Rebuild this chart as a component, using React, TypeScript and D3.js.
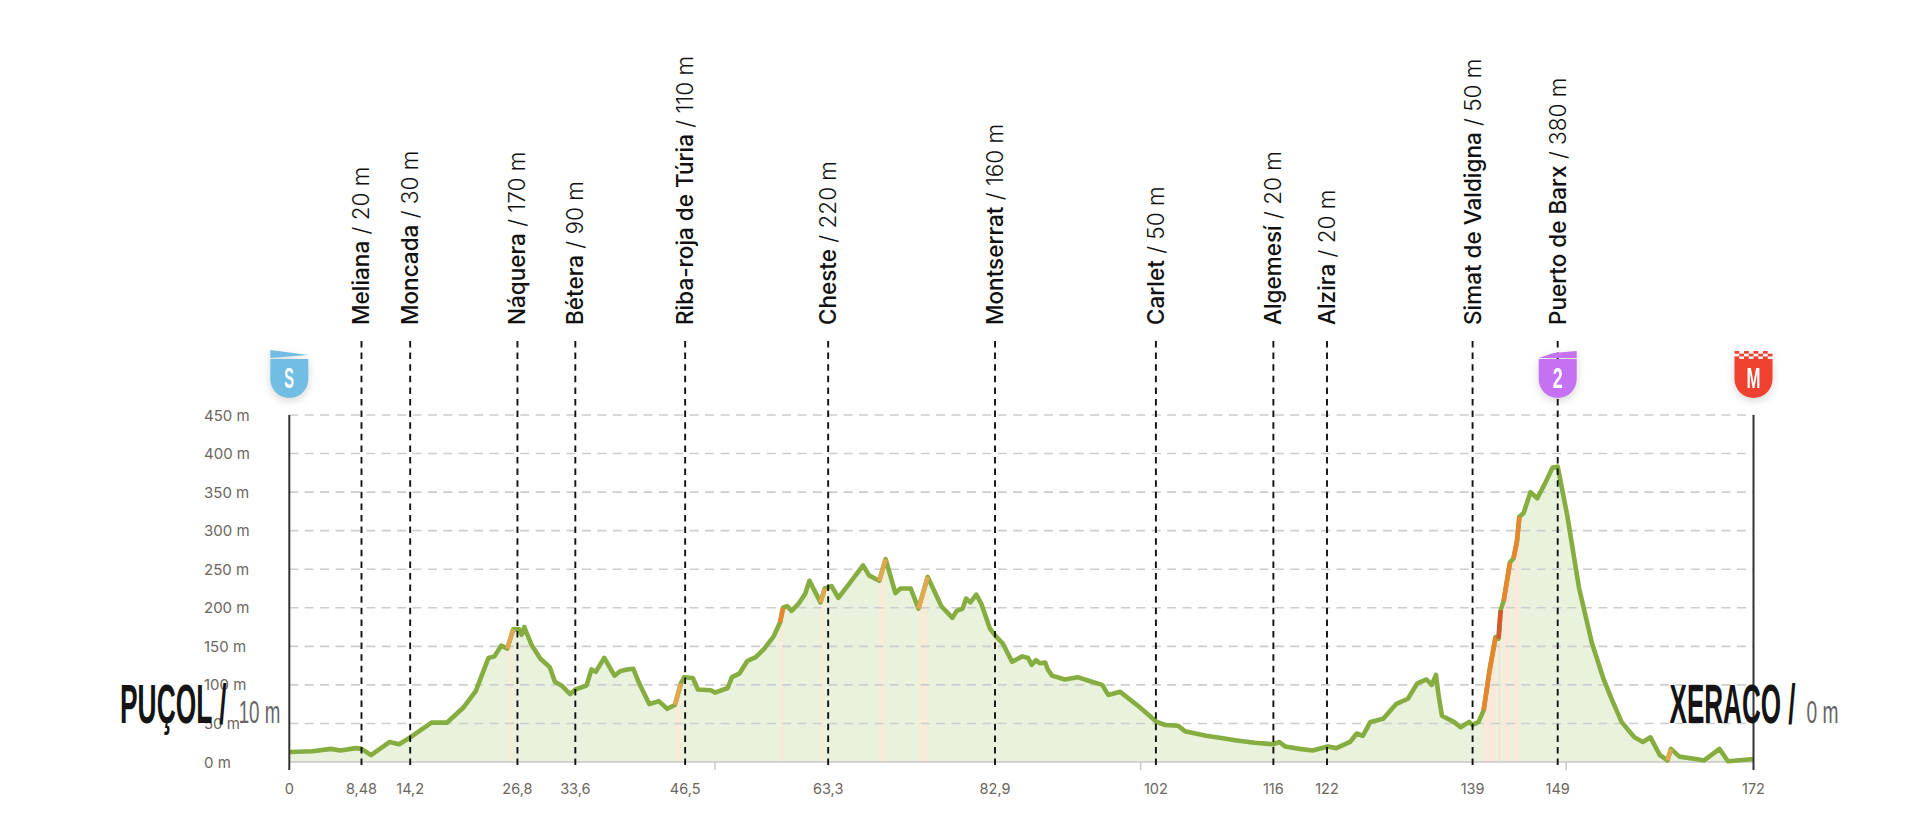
import React, { useEffect, useRef } from 'react';
import * as d3 from 'd3';

// profile: km / metres
const profileKm = [
  0, 2.7, 4.9, 6, 7.8, 8.5, 9.6, 11.8, 12.9, 14.2, 16.7, 18.5, 20.4, 21.9, 23.4, 24.1, 24.9, 25.6, 26.3, 27, 27.3, 27.6,
  28.5, 29.5, 30.6, 31.2, 32, 33, 33.6, 34.9, 35.5, 36, 37, 38.2, 38.9, 39.7, 40.4, 41.1, 42.3, 43.4, 44.4, 45.3, 46,
  46.4, 47.4, 48, 49.5, 50, 51.5, 52, 52.9, 53.8, 54.8, 55.8, 56.9, 57.65, 58, 58.5, 59, 59.8, 60.6, 61.1, 62.4,
  62.9, 63.7, 64.5, 65.7, 67.4, 68.1, 69.3, 70.05, 71.2, 71.8, 73, 73.9, 75, 76.6, 77.9, 78.4, 79.1, 79.5, 80,
  80.7, 81.3, 82.3, 83, 83.8, 84.9, 86.1, 86.8, 87.2, 87.7, 88.2, 88.8, 89.1, 89.6, 91.1, 92.6, 94, 95.5, 96.2, 97.6,
  99.8, 101.9, 102.9, 104.4, 105.2, 107.7, 109.5, 111.3, 113.4, 115.6, 116.3, 117, 118.7, 120.2, 122, 123, 124.6,
  125.4, 126.1, 127, 128.5, 130, 131.4, 132.5, 133.6, 134.2, 134.7, 135, 135.4, 136.8, 137.6, 138.6, 139, 139.7, 140.3,
  141, 141.7, 142.05, 142.3, 142.65, 143.4, 143.8, 144.2, 144.5, 145, 145.8, 146.6, 147.5, 148.4, 149, 150.1, 151.5,
  153, 154.4, 155.4, 156.5, 158, 159, 159.9, 161, 161.9, 162.3, 163.3, 165.2, 166.2, 168, 169, 172,
];
const profileElev = [
  13, 14, 17, 15, 18, 17, 9, 26, 23, 32, 51, 51, 70, 92, 135, 137, 151, 147, 172, 172, 165, 175,
  151, 134, 123, 104, 99, 88, 94, 99, 120, 117, 135, 112, 118, 120, 121, 102, 75, 79, 69, 74, 102,
  110, 109, 94, 93, 90, 96, 110, 115, 131, 136, 147, 163, 181, 200, 202, 196, 205, 218, 235, 207,
  225, 228, 213, 230, 255, 242, 235, 263, 219, 225, 225, 199, 240, 202, 187, 196, 199, 212, 207,
  217, 205, 173, 163, 154, 130, 137, 135, 126, 132, 128, 129, 120, 112, 107, 110, 105, 100, 87, 91,
  72, 52, 48, 47, 40, 34, 31, 28, 25, 23, 26, 20, 17, 15, 20, 18, 26,
  37, 34, 52, 56, 75, 82, 102, 107, 100, 113, 87, 60, 52, 45, 52, 48, 52, 67,
  119, 162, 160, 197, 209, 259, 264, 285, 318, 323, 350, 342, 361, 382, 383, 321, 226,
  155, 107, 80, 52, 32, 26, 32, 9, 2, 17, 7, 4, 2, 17, 1, 4,
];

const placeNames = [
  'Meliana', 'Moncada', 'Náquera', 'Bétera', 'Riba-roja de Túria', 'Cheste', 'Montserrat', 'Carlet', 'Algemesí',
  'Alzira', 'Simat de Valdigna', 'Puerto de Barx',
];
const placeElev = [20, 30, 170, 90, 110, 220, 160, 50, 20, 20, 50, 380];
const placeKm = [8.48, 14.2, 26.8, 33.6, 46.5, 63.3, 82.9, 101.8, 115.6, 121.9, 139, 149];
const placeKmLabels = ['8,48', '14,2', '26,8', '33,6', '46,5', '63,3', '82,9', '102', '116', '122', '139', '149'];

const elevTicks = [0, 50, 100, 150, 200, 250, 300, 350, 400, 450];
const minorKmTicks = [50, 100, 150];

const badges = [
  { km: 0, letter: 'S', color: '#72bde3', top: 'flag' },
  { km: 149, letter: '2', color: '#c572f2', top: 'rise' },
  { km: 172, letter: 'M', color: '#ee4130', top: 'check' },
];

const GREEN = '#86ad3f';
const FILL = '#e8f2dc';
const SANS = "Inter, 'Noto Sans', sans-serif";
const NARROW = "'Liberation Sans', Arial, sans-serif";

function gradeStyle(grade: number) {
  if (grade >= 12) return { line: '#d9572b', fill: '#fbe0d2' };
  if (grade >= 5) return { line: '#e6872f', fill: '#fbe8da' };
  if (grade >= 3.5) return { line: '#e0a850', fill: '#f6ecd8' };
  return null;
}

export default function App() {
  const svgRef = useRef<SVGSVGElement>(null);

  useEffect(() => {
    if (!svgRef.current) return;
    const svg = d3.select(svgRef.current);
    svg.selectAll('*').remove();

    const x = d3.scaleLinear().domain([0, 172]).range([289.3, 1753.5]);
    const y = d3.scaleLinear().domain([0, 450]).range([762, 415]);
    const points = profileKm.map((km, i) => ({ km, elev: profileElev[i] }));
    type P = { km: number; elev: number };

    const area = d3.area<P>().x(d => x(d.km)).y0(y(0)).y1(d => y(d.elev));
    const line = d3.line<P>().x(d => x(d.km)).y(d => y(d.elev));

    // Area under the profile
    svg.append('path').attr('d', area(points)).attr('fill', FILL);

    const segments = d3.pairs(points).map(([a, b]) => ({
      a,
      b,
      style: gradeStyle(((b.elev - a.elev) / ((b.km - a.km) * 1000)) * 100),
    }));
    segments.filter(s => s.style).forEach(s => {
      svg.append('path').attr('d', area([s.a, s.b])).attr('fill', s.style!.fill);
    });

    // Grid
    elevTicks.slice(1).forEach(t => {
      svg.append('line')
        .attr('x1', x(0)).attr('x2', x(172))
        .attr('y1', y(t)).attr('y2', y(t))
        .attr('stroke', '#cdcdcd')
        .attr('stroke-width', 1.6)
        .attr('stroke-dasharray', '9 6.4');
    });
    svg.append('line')
      .attr('x1', x(0)).attr('x2', x(172))
      .attr('y1', y(0)).attr('y2', y(0))
      .attr('stroke', '#c9c9c9')
      .attr('stroke-width', 1.5);

    minorKmTicks.forEach(t => {
      svg.append('line')
        .attr('x1', x(t)).attr('x2', x(t))
        .attr('y1', y(0)).attr('y2', y(0) + 8)
        .attr('stroke', '#c9c9c9')
        .attr('stroke-width', 1.5);
    });

    // Profile line
    svg.append('path')
      .attr('d', line(points))
      .attr('fill', 'none')
      .attr('stroke', GREEN)
      .attr('stroke-width', 4.6)
      .attr('stroke-linejoin', 'round');
    segments.filter(s => s.style).forEach(s => {
      svg.append('path')
        .attr('d', line([s.a, s.b]))
        .attr('fill', 'none')
        .attr('stroke', s.style!.line)
        .attr('stroke-width', 4.6)
        .attr('stroke-linecap', 'butt');
    });

    // Start and finish posts
    [0, 172].forEach(km => {
      svg.append('line')
        .attr('x1', x(km)).attr('x2', x(km))
        .attr('y1', y(450)).attr('y2', y(0) + 8)
        .attr('stroke', '#333')
        .attr('stroke-width', 2);
    });

    // Places
    placeNames.forEach((name, i) => {
      const px = x(placeKm[i]);
      svg.append('line')
        .attr('x1', px).attr('x2', px)
        .attr('y1', 341).attr('y2', y(0) + 6)
        .attr('stroke', '#111')
        .attr('stroke-width', 1.9)
        .attr('stroke-dasharray', '6.5 5.1');

      const label = svg.append('text')
        .attr('transform', `translate(${px + 8},325) rotate(-90)`)
        .attr('font-family', SANS)
        .attr('font-size', 22.5)
        .attr('fill', '#111');
      label.append('tspan').attr('font-weight', 500).text(name);
      label.append('tspan').attr('font-weight', 300).text(` / ${placeElev[i]} m`);

      svg.append('text')
        .attr('x', px)
        .attr('y', 794)
        .attr('text-anchor', 'middle')
        .attr('font-family', SANS)
        .attr('font-size', 14.5)
        .attr('fill', '#6b6660')
        .text(placeKmLabels[i]);
    });

    [0, 172].forEach(km => {
      svg.append('text')
        .attr('x', x(km))
        .attr('y', 794)
        .attr('text-anchor', 'middle')
        .attr('font-family', SANS)
        .attr('font-size', 14.5)
        .attr('fill', '#6b6660')
        .text(String(km));
    });

    // Elevation labels
    elevTicks.forEach(t => {
      svg.append('text')
        .attr('x', 204)
        .attr('y', y(t) + 5.5)
        .attr('font-family', SANS)
        .attr('font-size', 15)
        .attr('fill', '#6b6660')
        .text(`${t} m`);
    });

    // Badges
    badges.forEach(b => {
      const cx = x(b.km);
      const g = svg.append('g')
        .attr('transform', `translate(${cx},0)`)
        .style('filter', 'drop-shadow(0 3px 4px rgba(0,0,0,0.16))');
      g.append('path')
        .attr('d', 'M-19,359 H19 V379 A19,19 0 0 1 -19,379 Z')
        .attr('fill', b.color);
      if (b.top === 'flag') {
        g.append('path').attr('d', 'M-19,350 L19,355 L-19,358 Z').attr('fill', b.color);
      } else if (b.top === 'rise') {
        g.append('path').attr('d', 'M-19,358 L-4,353 L19,351 V358 Z').attr('fill', b.color);
      } else {
        d3.range(3).forEach(row => {
          d3.range(8).forEach(col => {
            if ((row + col) % 2 === 0) {
              g.append('rect')
                .attr('x', -19 + col * 4.75)
                .attr('y', 351 + row * 2.7)
                .attr('width', 4.75)
                .attr('height', 2.7)
                .attr('fill', b.color);
            }
          });
        });
      }
      g.append('text')
        .attr('y', 388)
        .attr('text-anchor', 'middle')
        .attr('font-family', NARROW)
        .attr('font-weight', 700)
        .attr('font-size', 29)
        .attr('fill', '#fff')
        .attr('textLength', b.letter === 'M' ? 14 : 10)
        .attr('lengthAdjust', 'spacingAndGlyphs')
        .text(b.letter);
    });

    // Start and finish names
    const bigTitles = [
      { text: 'PUÇOL /', x: 120, w: 106.5, sub: '10 m', subX: 238.7, subW: 41.6 },
      { text: 'XERACO /', x: 1669.5, w: 126, sub: '0 m', subX: 1806.6, subW: 32 },
    ];
    bigTitles.forEach(t => {
      svg.append('text')
        .attr('x', t.x)
        .attr('y', 723)
        .attr('font-family', NARROW)
        .attr('font-weight', 700)
        .attr('font-size', 56)
        .attr('fill', '#141414')
        .attr('textLength', t.w)
        .attr('lengthAdjust', 'spacingAndGlyphs')
        .text(t.text);
      svg.append('text')
        .attr('x', t.subX)
        .attr('y', 723)
        .attr('font-family', NARROW)
        .attr('font-size', 32)
        .attr('fill', '#666')
        .attr('textLength', t.subW)
        .attr('lengthAdjust', 'spacingAndGlyphs')
        .text(t.sub);
    });
  }, []);

  return (
    <div style={{ position: 'absolute', left: 0, top: 0 }}>
      <svg ref={svgRef} width="1920" height="830" viewBox="0 0 1920 830" style={{ display: 'block' }} />
    </div>
  );
}
